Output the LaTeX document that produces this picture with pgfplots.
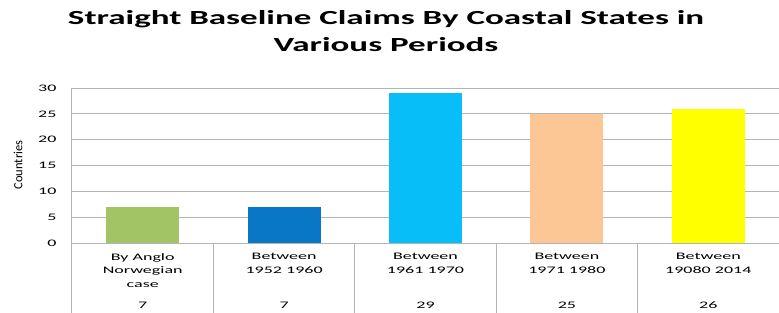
\documentclass[border=0pt]{standalone}
\usepackage{fontspec}
\setmainfont{Carlito}[FakeStretch=1.75]
\newfontfamily\smallf{Carlito}[FakeStretch=1.8]
\newfontfamily\plainf{Carlito}
\usepackage{pgfplots}
\pgfplotsset{compat=1.18}
\definecolor{cA}{HTML}{A3C464}
\definecolor{cB}{HTML}{0A76C6}
\definecolor{cC}{HTML}{08BEF8}
\definecolor{cD}{HTML}{FCC794}
\definecolor{cE}{HTML}{FFFF00}
\definecolor{gridc}{HTML}{B4B4B4}
\begin{document}
\begin{tikzpicture}[x=1pt,y=1pt]
\useasboundingbox (0,0) rectangle (779,-313);
\node[font=\bfseries\fontsize{20}{27}\selectfont, align=center] at (386,-31) {Straight Baseline Claims By Coastal States in\\Various Periods};
\node[rotate=90, font=\plainf\fontsize{12.5}{13}\selectfont] at (18,-165) {Countries};
\begin{axis}[
  at={(72pt,-243pt)}, anchor=south west,
  scale only axis, width=707pt, height=155pt,
  xmin=-0.5, xmax=4.5, ymin=0, ymax=30,
  clip=false,
  ybar, bar width=0.516,
  axis x line*=bottom, axis y line*=left,
  axis line style={gridc, line width=1pt},
  ymajorgrids, grid style={gridc, line width=1pt},
  xtick={0,1,2,3,4},
  xticklabels={{By Anglo\\Norwegian\\case\\[8pt]7},{Between\\1952 1960\\{}\\[8pt]7},{Between\\1961 1970\\{}\\[8pt]29},{Between\\1971 1980\\{}\\[8pt]25},{Between\\19080 2014\\{}\\[8pt]26}},
  xticklabel style={align=center, anchor=north, yshift=-7pt, font=\smallf\fontsize{10}{13.5}\selectfont},
  major tick length=0pt,
  ytick={0,5,...,30},
  yticklabel style={font=\smallf\fontsize{10}{12}\selectfont, xshift=-12pt},
  /pgf/number format/assume math mode=true,
]
\addplot[fill=cA, draw=none, bar shift=0pt] coordinates {(0,7)};
\addplot[fill=cB, draw=none, bar shift=0pt] coordinates {(1,7)};
\addplot[fill=cC, draw=none, bar shift=0pt] coordinates {(2,29)};
\addplot[fill=cD, draw=none, bar shift=0pt] coordinates {(3,25)};
\addplot[fill=cE, draw=none, bar shift=0pt] coordinates {(4,26)};
\draw[gridc, line width=1pt] (axis cs:-0.5,0) -- ++(0pt,-70pt);
\draw[gridc, line width=1pt] (axis cs:0.5,0) -- ++(0pt,-70pt);
\draw[gridc, line width=1pt] (axis cs:1.5,0) -- ++(0pt,-70pt);
\draw[gridc, line width=1pt] (axis cs:2.5,0) -- ++(0pt,-70pt);
\draw[gridc, line width=1pt] (axis cs:3.5,0) -- ++(0pt,-70pt);
\end{axis}
\end{tikzpicture}
\end{document}
